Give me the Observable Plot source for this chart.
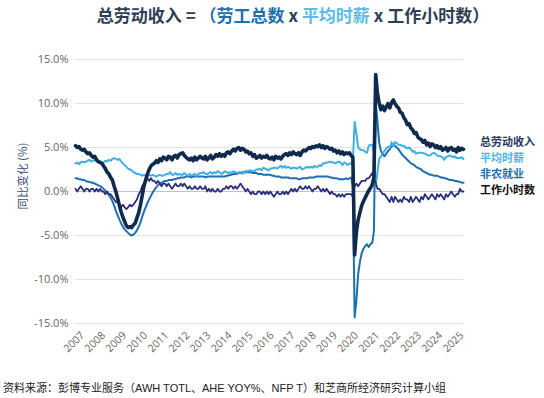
<!DOCTYPE html>
<html>
<head>
<meta charset="utf-8">
<script src="https://cdn.jsdelivr.net/npm/d3@7"></script>
<script src="https://cdn.jsdelivr.net/npm/@observablehq/plot@0.6"></script>
<style>
  html, body { margin: 0; padding: 0; background: #fff; }
  #wrap { position: relative; width: 544px; height: 398px; overflow: hidden; font-family: "Noto Sans CJK SC", sans-serif; }
  #title { position: absolute; left: 0; width: 586px; top: 2px; text-align: center; font-size: 17px; font-weight: bold; color: #2e3e55; white-space: nowrap; }
  #chart { position: absolute; left: 0; top: 0; }
  #ylab { position: absolute; left: 22px; top: 176px; transform: translate(-50%, -50%) rotate(-90deg); font-size: 11.5px; color: #3d4f78; white-space: nowrap; }
  #legend { position: absolute; left: 480px; top: 133px; font-size: 11px; font-weight: bold; line-height: 16px; }
  #caption { position: absolute; left: 3px; top: 379px; font-size: 11px; color: #222; white-space: nowrap; font-family: "Liberation Sans", "Noto Sans CJK SC", sans-serif; }
</style>
</head>
<body>
<div id="wrap">
  <div id="title"></div>
  <div id="chart"></div>
  <div id="ylab"></div>
  <div id="legend"></div>
  <div id="caption"></div>
</div>
<script>
// ---- data (monthly YoY %, Jan 2007 .. Jun 2025) ----
const startYear = 2007;
const seriesNames = ["总劳动收入", "平均时薪", "非农就业", "工作小时数"];
const seriesColors = ["#0f2a4d", "#41aee2", "#1b70b0", "#2b2f7e"];
const legendColors = ["#2a3a5e", "#4fb3e2", "#1d6fae", "#111111"];
const yTicks = [-15, -10, -5, 0, 5, 10, 15];
const xTickYears = [2007,2008,2009,2010,2011,2012,2013,2014,2015,2016,2017,2018,2019,2020,2021,2022,2023,2024,2025];
const titleParts = ["总劳动收入 = ", "（劳工总数", " x ", "平均时薪", " x 工作小时数）"];
const yLabel = "同比变化 (%)";
const captionText = "资料来源：彭博专业服务（AWH TOTL、AHE YOY%、NFP T）和芝商所经济研究计算小组";

const totalIncome = [
  5.2, 5.0, 5.1, 4.8, 4.7, 4.8, 4.5, 4.3, 4.4, 4.1, 3.9, 4.0,
  3.6, 3.4, 3.3, 3.2, 2.9, 2.6, 2.2, 2.0, 1.6, 1.3, 0.6, 0.0,
  -0.8, -1.6, -2.3, -2.9, -3.4, -3.9, -4.1, -4.0, -4.1, -3.8, -3.6, -3.0,
  -2.4, -1.5, -0.5, 0.6, 1.3, 2.0, 2.5, 2.9, 3.1, 3.2, 3.5, 3.3,
  3.7, 3.5, 3.9, 3.8, 3.6, 4.0, 3.9, 3.6, 4.0, 4.1, 3.8, 4.2,
  4.3, 4.4, 4.1, 3.9, 3.7, 3.6, 3.8, 3.5, 3.9, 3.6, 3.8, 4.0,
  3.8, 3.7, 4.0, 3.6, 3.8, 4.1, 3.7, 3.9, 4.2, 4.0, 4.3, 4.0,
  4.2, 4.0, 4.4, 4.5, 4.3, 4.6, 4.8, 4.6, 4.9, 5.0, 4.7, 4.9,
  4.8, 4.5, 4.6, 4.3, 4.4, 4.0, 4.2, 3.8, 3.9, 4.1, 3.8, 4.0,
  3.9, 4.1, 3.8, 3.7, 3.9, 3.6, 4.0, 3.8, 3.9, 3.7, 4.0, 4.2,
  4.3, 4.1, 4.4, 4.2, 4.5, 4.3, 4.2, 4.4, 4.1, 4.5, 4.7, 4.6,
  4.8, 5.0, 4.9, 5.1, 5.0, 5.2, 5.1, 5.3, 5.0, 5.2, 4.9, 5.1,
  5.0, 4.8, 4.9, 4.6, 4.7, 4.4, 4.6, 4.3, 4.5, 4.2, 4.4, 4.3,
  4.4, 4.1, 3.9, -7.2, -4.6, -3.2, -2.4, -1.6, -1.1, -0.7, -0.3, 0.1,
  0.4, 0.8, 1.6, 13.3, 11.2, 10.0, 9.3, 9.7, 9.2, 9.6, 10.0, 9.5,
  10.1, 10.4, 10.0, 9.7, 9.5, 9.0, 8.9, 8.4, 8.1, 7.6, 7.7, 7.2,
  7.0, 6.6, 6.7, 6.2, 6.0, 5.9, 5.6, 5.8, 5.3, 5.5, 5.1, 5.4,
  5.3, 5.0, 5.2, 4.9, 5.1, 4.7, 4.8, 5.0, 4.6, 4.9, 5.0, 4.7,
  4.8, 4.5, 5.0, 4.7, 4.9, 4.8
];
const hourlyEarnings = [
  3.2, 3.3, 3.1, 3.3, 3.4, 3.3, 3.4, 3.5, 3.6, 3.4, 3.5, 3.6,
  3.4, 3.3, 3.4, 3.2, 3.3, 3.5, 3.4, 3.6, 3.5, 3.7, 3.8, 3.7,
  3.6, 3.7, 3.4, 3.2, 3.0, 2.8, 2.6, 2.5, 2.4, 2.2, 2.1, 2.0,
  2.0, 1.9, 1.8, 1.9, 1.8, 1.8, 1.9, 1.8, 1.9, 1.8, 1.7, 1.8,
  1.9, 1.8, 1.8, 1.9, 2.0, 2.0, 2.2, 1.9, 1.9, 2.1, 1.9, 2.0,
  1.9, 1.9, 2.1, 1.9, 1.8, 2.0, 1.8, 1.9, 2.0, 1.7, 2.0, 2.1,
  2.1, 2.2, 2.0, 2.0, 2.1, 2.2, 2.0, 2.2, 2.1, 2.3, 2.2, 2.0,
  2.1, 2.3, 2.2, 2.1, 2.2, 2.1, 2.3, 2.2, 2.1, 2.2, 2.2, 2.0,
  2.2, 2.1, 2.3, 2.4, 2.4, 2.3, 2.3, 2.5, 2.5, 2.6, 2.4, 2.7,
  2.6, 2.5, 2.4, 2.6, 2.6, 2.7, 2.7, 2.6, 2.8, 2.9, 2.7, 2.9,
  2.7, 2.8, 2.7, 2.6, 2.7, 2.7, 2.6, 2.7, 2.8, 2.5, 2.6, 2.7,
  2.8, 2.7, 2.8, 2.7, 2.9, 2.8, 2.8, 3.0, 2.9, 3.2, 3.2, 3.3,
  3.3, 3.4, 3.3, 3.3, 3.2, 3.3, 3.4, 3.3, 3.0, 3.3, 3.2, 3.0,
  3.2, 3.1, 3.4, 7.9, 6.6, 5.0, 4.8, 4.7, 4.7, 4.5, 4.4, 5.2,
  5.3, 5.3, 4.4, 0.6, 2.2, 3.7, 4.0, 4.3, 4.6, 4.9, 5.1, 4.9,
  5.6, 5.2, 5.6, 5.5, 5.3, 5.3, 5.2, 5.2, 5.0, 4.9, 5.0, 4.8,
  4.5, 4.6, 4.3, 4.4, 4.4, 4.4, 4.4, 4.3, 4.2, 4.1, 4.1, 4.3,
  4.4, 4.3, 4.1, 4.0, 4.0, 3.9, 3.6, 3.9, 4.0, 4.1, 4.0, 3.9,
  4.0, 3.8, 3.8, 3.8, 3.9, 3.7
];
const payrolls = [
  1.5, 1.5, 1.4, 1.4, 1.3, 1.3, 1.2, 1.1, 1.1, 1.0, 1.0, 0.9,
  0.8, 0.7, 0.6, 0.5, 0.3, 0.1, -0.1, -0.4, -0.7, -1.1, -1.6, -2.2,
  -2.7, -3.2, -3.6, -4.0, -4.3, -4.5, -4.7, -4.9, -5.0, -4.9, -4.7, -4.4,
  -4.0, -3.5, -2.9, -2.3, -1.8, -1.3, -0.9, -0.5, -0.1, 0.2, 0.5, 0.7,
  0.9, 1.0, 1.1, 1.2, 1.2, 1.3, 1.3, 1.3, 1.4, 1.4, 1.5, 1.5,
  1.6, 1.6, 1.6, 1.7, 1.7, 1.7, 1.6, 1.7, 1.7, 1.7, 1.7, 1.7,
  1.7, 1.7, 1.6, 1.7, 1.7, 1.7, 1.7, 1.7, 1.7, 1.7, 1.7, 1.7,
  1.7, 1.7, 1.8, 1.8, 1.9, 1.9, 2.0, 2.0, 2.0, 2.1, 2.1, 2.2,
  2.2, 2.3, 2.2, 2.2, 2.2, 2.1, 2.1, 2.1, 2.0, 2.0, 2.0, 1.9,
  1.9, 1.9, 1.9, 1.9, 1.8, 1.8, 1.7, 1.7, 1.7, 1.6, 1.6, 1.6,
  1.6, 1.6, 1.5, 1.5, 1.5, 1.5, 1.5, 1.4, 1.4, 1.5, 1.5, 1.5,
  1.5, 1.6, 1.6, 1.6, 1.6, 1.7, 1.7, 1.7, 1.7, 1.7, 1.7, 1.7,
  1.7, 1.6, 1.6, 1.5, 1.5, 1.5, 1.4, 1.4, 1.4, 1.4, 1.5, 1.4,
  1.5, 1.6, 0.6, -14.3, -12.4, -9.4, -8.0, -7.0, -6.5, -6.2, -6.0, -6.3,
  -6.0, -5.8, -4.5, 10.1, 8.0, 5.5, 4.6, 4.2, 4.0, 4.3, 4.6, 4.8,
  5.1, 5.3, 5.2, 5.0, 4.8, 4.5, 4.2, 4.0, 3.8, 3.6, 3.4, 3.2,
  3.1, 3.0, 2.8, 2.7, 2.6, 2.5, 2.3, 2.2, 2.1, 2.0, 1.9, 1.9,
  1.8, 1.8, 1.8, 1.7, 1.6, 1.6, 1.5, 1.5, 1.4, 1.3, 1.3, 1.3,
  1.2, 1.2, 1.1, 1.1, 1.0, 1.0
];
const weeklyHours = [
  0.3, 0.0, 0.3, 0.6, 0.3, 0.0, 0.3, 0.3, 0.0, 0.3, 0.3, 0.0,
  0.3, 0.0, 0.3, 0.0, 0.0, -0.3, 0.0, -0.3, -0.3, -0.6, -0.9, -1.2,
  -1.2, -1.5, -1.8, -1.5, -1.8, -2.0, -1.8, -1.5, -1.7, -1.5, -1.2, -0.9,
  -0.3, 0.0, 0.6, 0.9, 1.2, 1.5, 1.2, 1.5, 1.2, 1.2, 0.9, 1.2,
  0.9, 0.6, 0.9, 0.9, 0.6, 0.9, 0.6, 0.3, 0.6, 0.9, 0.6, 0.6,
  0.9, 0.6, 0.9, 0.6, 0.3, 0.6, 0.3, 0.3, 0.6, 0.3, 0.3, 0.6,
  0.3, 0.3, 0.6, 0.0, 0.3, 0.0, 0.3, 0.0, 0.0, 0.3, 0.0, 0.0,
  0.3, 0.3, 0.6, 0.3, 0.6, 0.6, 0.3, 0.6, 0.3, 0.6, 0.9, 0.6,
  0.3, 0.0, 0.3, 0.0, -0.3, 0.0, -0.3, -0.3, 0.0, 0.0, -0.3, 0.0,
  -0.3, 0.0, -0.3, 0.0, -0.3, -0.6, -0.3, 0.0, -0.3, -0.3, 0.0, -0.3,
  0.0, -0.3, 0.0, 0.3, 0.0, 0.3, 0.0, 0.3, 0.6, 0.3, 0.3, 0.6,
  0.3, 0.6, 0.3, 0.0, 0.3, 0.3, 0.6, 0.3, 0.0, 0.3, 0.0, 0.3,
  0.0, -0.3, 0.0, -0.3, -0.3, -0.6, -0.3, -0.6, -0.3, -0.6, -0.3, -0.3,
  -0.3, -0.3, -0.6, 0.6, 0.9, 0.6, 0.9, 1.2, 1.2, 1.2, 1.5, 1.5,
  1.8, 2.1, 1.5, 1.0, 0.3, 0.3, 0.0, -0.3, -0.3, -0.6, -0.9, -1.2,
  -0.6, -1.2, -0.6, -0.9, -1.2, -0.9, -1.2, -0.6, -0.9, -0.9, -1.2, -0.6,
  -1.2, -0.9, -0.6, -0.9, -1.2, -0.6, -0.9, -0.3, -0.6, -0.9, -0.6, -0.3,
  -0.6, -0.9, -0.3, -0.6, -0.3, -0.6, -0.9, -0.3, -0.6, -0.3, 0.0, -0.3,
  -0.6, -0.3, -0.3, 0.3, 0.0, 0.0
];

// ---- build table ----
const seriesValues = [totalIncome, hourlyEarnings, payrolls, weeklyHours];
const rows = [];
seriesValues.forEach((vals, s) => {
  vals.forEach((v, i) => rows.push({date: new Date(Date.UTC(startYear, i, 1)), value: v, series: seriesNames[s]}));
});
const lastDate = new Date(Date.UTC(startYear, totalIncome.length - 1, 1));
const xTicks = xTickYears.map(y => new Date(Date.UTC(y, 0, 1)));
const fmtPct = d => d.toFixed(1) + "%";

const drawOrder = [2, 1, 3, 0];
const widths = [3.6, 2, 2, 1.8];

const chart = Plot.plot({
  width: 544,
  height: 365,
  marginTop: 59,
  marginBottom: 42,
  marginLeft: 75,
  marginRight: 81,
  style: {fontFamily: "'Open Sans', sans-serif", fontSize: "11px", background: "transparent"},
  x: {type: "utc", domain: [new Date(Date.UTC(startYear, 0, 1)), lastDate]},
  y: {domain: [-15, 15]},
  marks: [
    Plot.gridY(yTicks, {stroke: "#e3e3e3", strokeOpacity: 1}),
    Plot.ruleY([0], {stroke: "#c2c2c2", strokeWidth: 1.2}),
    Plot.axisY(yTicks, {tickSize: 0, tickPadding: 7, tickFormat: fmtPct, color: "#666", label: null}),
    Plot.axisX(xTicks, {tickSize: 0, tickPadding: 10, tickRotate: -45, tickFormat: d => String(d.getUTCFullYear()), color: "#666", fontSize: 10.5, label: null, dx: 7}),
    ...drawOrder.map(s => Plot.line(rows.filter(r => r.series === seriesNames[s]), {
      x: "date", y: "value", stroke: seriesColors[s], strokeWidth: widths[s], strokeLinejoin: "round"
    }))
  ]
});
document.getElementById("chart").appendChild(chart);

// title
const titleColors = ["#2e3e55", "#1f6fae", "#2e3e55", "#5bbbe5", "#2e3e55"];
document.getElementById("title").innerHTML = titleParts.map((p, i) => `<span style="color:${titleColors[i]};white-space:pre">${p}</span>`).join("");
document.getElementById("ylab").textContent = yLabel;
document.getElementById("caption").textContent = captionText;
document.getElementById("legend").innerHTML = seriesNames.map((n, i) => `<div style="color:${legendColors[i]}">${n}</div>`).join("");
</script>
</body>
</html>
